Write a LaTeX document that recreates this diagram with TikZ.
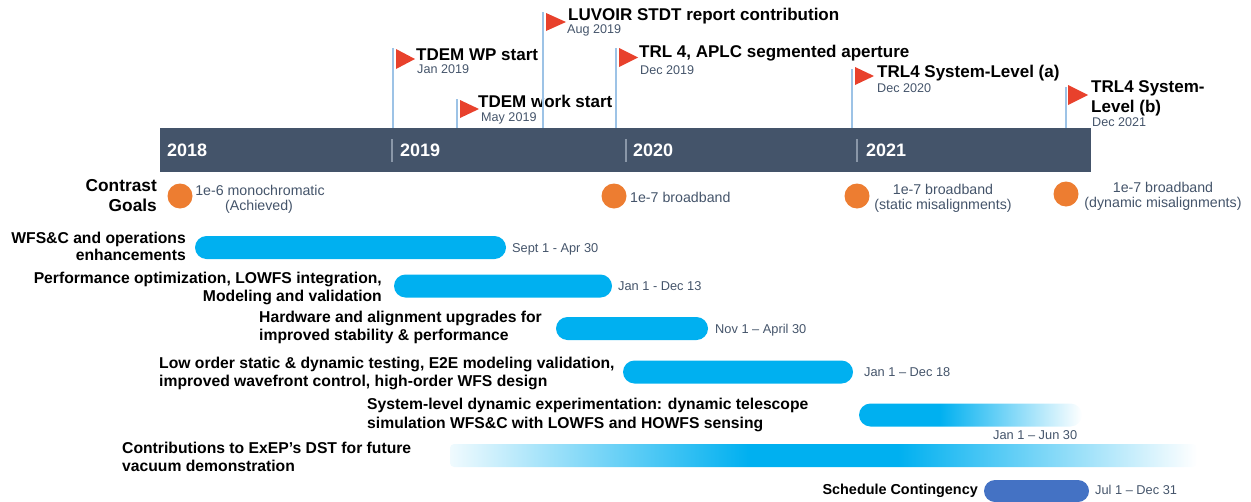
\documentclass[tikz,border=0pt]{standalone}
\usepackage{fontspec}
\setmainfont{Liberation Sans}

\definecolor{slate}{HTML}{44546A}
\definecolor{taskblue}{HTML}{00B0F0}
\definecolor{contblue}{HTML}{4472C4}
\definecolor{goalorange}{HTML}{ED7D31}
\definecolor{flagred}{HTML}{E8412C}
\definecolor{polecol}{HTML}{9DC3E6}
\definecolor{sepcol}{HTML}{8A97A8}

% bar that is solid on the left and fades to white on the right
\pgfdeclarehorizontalshading{fadeout}{100bp}{color(0bp)=(taskblue); color(25bp)=(taskblue); color(43bp)=(taskblue); color(75bp)=(white); color(100bp)=(white)}
% bar that fades in from the left and out to the right
\pgfdeclarehorizontalshading{fadeinout}{100bp}{color(0bp)=(taskblue!6); color(25bp)=(taskblue!6); color(45bp)=(taskblue); color(55bp)=(taskblue); color(75bp)=(white); color(100bp)=(white)}

\tikzset{
  polestyle/.style={draw=polecol, line width=1.6pt},
  flagtri/.style={fill=flagred},
  mstitle/.style={anchor=base west, inner sep=0pt, font=\fontsize{17}{20}\selectfont\bfseries},
  msdate/.style={anchor=base west, inner sep=0pt, text=slate, font=\fontsize{12.6}{15}\selectfont},
  yearlbl/.style={anchor=base west, inner sep=0pt, text=white, font=\fontsize{18}{20}\selectfont\bfseries},
  yearsep/.style={draw=sepcol, line width=1.2pt},
  goal/.style={circle, fill=goalorange, minimum size=25pt, inner sep=0pt},
  goaltxt/.style={anchor=base, inner sep=0pt, text=slate, font=\fontsize{14.2}{17}\selectfont},
  goalhead/.style={anchor=base east, inner sep=0pt, font=\fontsize{17.3}{20}\selectfont\bfseries},
  tasklbl/.style={inner sep=0pt, font=\fontsize{15.7}{18}\selectfont\bfseries},
  taskdate/.style={anchor=base west, inner sep=0pt, text=slate, font=\fontsize{12.8}{15}\selectfont},
  taskbar/.style={fill=taskblue, rounded corners=11.5pt, inner sep=0pt, minimum height=23pt},
}

\begin{document}
\begin{tikzpicture}[x=1pt, y=-1pt]
\useasboundingbox (0,0) rectangle (1251,501);

% ---- timeline band with years ----
\node[fill=slate, minimum width=931pt, minimum height=44pt, inner sep=0pt] (timeline) at (625.5,150) {};
\node[yearlbl] (y18) at (167,156) {2018};
\draw[yearsep] (392,139) -- (392,162);
\node[yearlbl] (y19) at (400,156) {2019};
\draw[yearsep] (626,139) -- (626,162);
\node[yearlbl] (y20) at (633,156) {2020};
\draw[yearsep] (857,139) -- (857,162);
\node[yearlbl] (y21) at (866,156) {2021};

% ---- milestones ----
\coordinate (p1) at (393,48);
\draw[polestyle] (p1) -- (p1 |- timeline.north);
\fill[flagtri] (396,49) -- (396,69) -- (415,59) -- cycle;
\node[mstitle] (m1) at (416,60) {TDEM WP start};
\node[msdate] (d1) at (417,73) {Jan 2019};

\coordinate (p2) at (457,99);
\draw[polestyle] (p2) -- (p2 |- timeline.north);
\fill[flagtri] (460,100) -- (460,118) -- (479,109) -- cycle;
\node[mstitle] (m2) at (478,107) {TDEM work start};
\node[msdate] (d2) at (481,121) {May 2019};

\coordinate (p3) at (543,12);
\draw[polestyle] (p3) -- (p3 |- timeline.north);
\fill[flagtri] (546,13) -- (546,31) -- (566,22) -- cycle;
\node[mstitle] (m3) at (568,20) {LUVOIR STDT report contribution};
\node[msdate] (d3) at (567,33) {Aug 2019};

\coordinate (p4) at (616,48);
\draw[polestyle] (p4) -- (p4 |- timeline.north);
\fill[flagtri] (619,48) -- (619,67) -- (638,57.5) -- cycle;
\node[mstitle] (m4) at (639,57) {TRL 4, APLC segmented aperture};
\node[msdate] (d4) at (640,74) {Dec 2019};

\coordinate (p5) at (852,69);
\draw[polestyle] (p5) -- (p5 |- timeline.north);
\fill[flagtri] (855,67) -- (855,85) -- (874,76) -- cycle;
\node[mstitle] (m5) at (877,77) {TRL4 System-Level (a)};
\node[msdate] (d5) at (877,92) {Dec 2020};

\coordinate (p6) at (1066,87);
\draw[polestyle] (p6) -- (p6 |- timeline.north);
\fill[flagtri] (1068,85) -- (1068,105) -- (1088,95) -- cycle;
\node[mstitle] (m6a) at (1091,92) {TRL4 System-};
\node[mstitle] (m6b) at (1091,112) {Level (b)};
\node[msdate] (d6) at (1092,126) {Dec 2021};

% ---- contrast goals ----
\node[goalhead] (cg1) at (157,191) {Contrast};
\node[goalhead] (cg2) at (157,211) {Goals};

\node[goal] (g1) at (180,196) {};
\node[goaltxt] (g1a) at (260,195) {1e-6 monochromatic};
\node[goaltxt] (g1b) at (259,210) {(Achieved)};

\node[goal] (g2) at (614,196) {};
\node[goaltxt, anchor=base west] (g2a) at (630,202) {1e-7 broadband};

\node[goal] (g3) at (857,196) {};
\node[goaltxt] (g3a) at (943,194) {1e-7 broadband};
\node[goaltxt] (g3b) at (943,209) {(static misalignments)};

\node[goal] (g4) at (1066,194) {};
\node[goaltxt] (g4a) at (1163,192) {1e-7 broadband};
\node[goaltxt] (g4b) at (1163,207) {(dynamic misalignments)};

% ---- tasks ----
\node[tasklbl, anchor=base east] (l1a) at (186,243.5) {WFS\&C and operations};
\node[tasklbl, anchor=base east] (l1b) at (186,260.5) {enhancements};
\node[taskbar, minimum width=311pt] (b1) at (350.5,247.5) {};
\node[taskdate] (t1) at (512,252) {Sept 1 - Apr 30};

\node[tasklbl, anchor=base east] (l2a) at (382,283) {Performance optimization, LOWFS integration,};
\node[tasklbl, anchor=base east] (l2b) at (382,301) {Modeling and validation};
\node[taskbar, minimum width=218pt] (b2) at (503,286) {};
\node[taskdate] (t2) at (618,290) {Jan 1 - Dec 13};

\node[tasklbl, anchor=base west] (l3a) at (259,322) {Hardware and alignment upgrades for};
\node[tasklbl, anchor=base west] (l3b) at (259,340) {improved stability \& performance};
\node[taskbar, minimum width=152pt] (b3) at (632,328.5) {};
\node[taskdate] (t3) at (715,333) {Nov 1 -- April 30};

\node[tasklbl, anchor=base west] (l4a) at (159,368) {Low order static \& dynamic testing, E2E modeling validation,};
\node[tasklbl, anchor=base west] (l4b) at (159,386) {improved wavefront control, high-order WFS design};
\node[taskbar, minimum width=230pt] (b4) at (738,372) {};
\node[taskdate] (t4) at (864,376.5) {Jan 1 -- Dec 18};

\node[tasklbl, anchor=base west] (l5a) at (367,409) {System-level dynamic experimentation: dynamic telescope};
\node[tasklbl, anchor=base west] (l5b) at (367,428) {simulation WFS\&C with LOWFS and HOWFS sensing};
\node[taskbar, fill=none, shade, shading=fadeout, minimum width=223pt] (b5) at (970.5,415) {};
\node[taskdate] (t5) at (993,439) {Jan 1 -- Jun 30};

\node[tasklbl, anchor=base west] (l6a) at (122,453.5) {Contributions to ExEP's DST for future};
\node[tasklbl, anchor=base west] (l6b) at (122,471.5) {vacuum demonstration};
\node[taskbar, fill=none, shade, shading=fadeinout, rounded corners=4pt, minimum width=747pt] (b6) at (823.5,455.5) {};

\node[tasklbl, anchor=base east, font=\fontsize{14.4}{17}\selectfont\bfseries] (l7) at (978,494) {Schedule Contingency};
\node[taskbar, fill=contblue, minimum width=105pt, minimum height=22pt, rounded corners=11pt] (b7) at (1036.5,491) {};
\node[taskdate] (t7) at (1095,494) {Jul 1 -- Dec 31};

\end{tikzpicture}
\end{document}
